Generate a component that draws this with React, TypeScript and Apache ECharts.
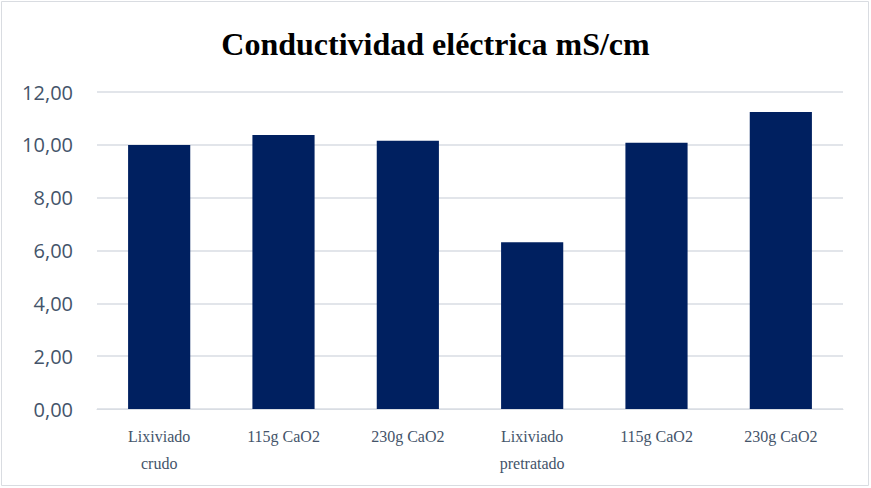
import React, { useEffect, useRef } from "react";
import * as echarts from "echarts";

const categories = [
  "Lixiviado\ncrudo",
  "115g CaO2",
  "230g CaO2",
  "Lixiviado\npretratado",
  "115g CaO2",
  "230g CaO2",
];
const conductividad = [9.99, 10.37, 10.15, 6.31, 10.08, 11.24];
const yTicks = { min: 0, max: 12, interval: 2 };
const titleText = "Conductividad eléctrica mS/cm";

export default function App() {
  const ref = useRef<HTMLDivElement>(null);
  useEffect(() => {
    if (!ref.current) return;
    const chart = echarts.init(ref.current, undefined, { renderer: "svg" });
    chart.setOption({
      animation: false,
      backgroundColor: "#ffffff",
      title: {
        text: titleText,
        left: "center",
        top: 23,
        textStyle: {
          fontFamily: "Liberation Serif",
          fontWeight: "bold",
          fontSize: 32,
          color: "#000000",
        },
      },
      graphic: [
        {
          type: "rect",
          shape: { x: 1.5, y: 1.5, width: 867, height: 484 },
          style: { fill: "none", stroke: "#d9dce1", lineWidth: 1 },
          silent: true,
        },
      ],
      grid: { left: 97, right: 28, top: 92, bottom: 79 },
      xAxis: {
        type: "category",
        data: categories,
        axisLine: { show: true, lineStyle: { color: "#d9dde3", width: 1 } },
        axisTick: { show: false },
        axisLabel: {
          interval: 0,
          margin: 14,
          fontFamily: "Liberation Serif",
          fontSize: 16,
          lineHeight: 27,
          color: "#44546a",
        },
      },
      yAxis: {
        type: "value",
        min: yTicks.min,
        max: yTicks.max,
        interval: yTicks.interval,
        axisLine: { show: false },
        axisTick: { show: false },
        splitLine: { lineStyle: { color: "#d9dde3", width: 1.5 } },
        axisLabel: {
          margin: 24,
          fontFamily: "Open Sans",
          fontSize: 20,
          color: "#44546a",
          formatter: (v: number) => v.toFixed(2).replace(".", ","),
        },
      },
      series: [
        {
          type: "bar",
          data: conductividad,
          barWidth: "50%",
          itemStyle: { color: "#002060" },
        },
      ],
    });
    return () => chart.dispose();
  }, []);
  return (
    <div
      ref={ref}
      style={{ position: "fixed", left: 0, top: 0, width: 871, height: 488 }}
    />
  );
}
